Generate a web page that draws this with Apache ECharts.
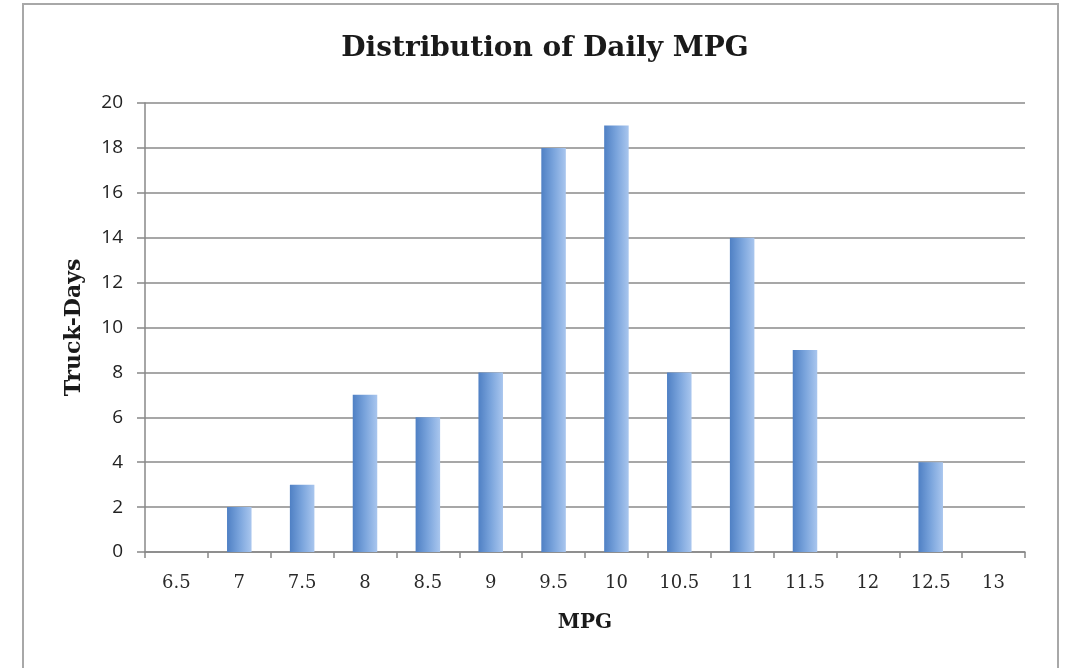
<!DOCTYPE html>
<html><head><meta charset="utf-8">
<script src="https://cdn.jsdelivr.net/npm/echarts@6/dist/echarts.min.js"></script>
<style>html,body{margin:0;padding:0;background:#fff}#c{width:1069px;height:668px}</style>
</head><body><div id="c"></div>
<script>
const categories = ['6.5','7','7.5','8','8.5','9','9.5','10','10.5','11','11.5','12','12.5','13'];
const truckDays = [0,2,3,7,6,8,18,19,8,14,9,0,4,0];
const yTicks = [0,2,4,6,8,10,12,14,16,18,20];

const chart = echarts.init(document.getElementById('c'));
chart.setOption({
  animation:false,
  backgroundColor:'#fff',
  title:{text:'Distribution of Daily MPG',left:540,top:30,textAlign:'center',
    textStyle:{fontFamily:'DejaVu Serif',fontWeight:'bold',fontSize:28,color:'#1a1a1a'}},
  graphic:[{type:'rect',shape:{x:23,y:4,width:1035,height:680},
    style:{fill:'none',stroke:'#a8a8a8',lineWidth:2},silent:true}],
  grid:{left:145,right:44,top:103,bottom:116},
  xAxis:{type:'category',data:categories,
    name:'MPG',nameLocation:'middle',nameGap:61,
    nameTextStyle:{fontFamily:'DejaVu Serif',fontWeight:'bold',fontSize:20,color:'#1a1a1a'},
    axisLine:{lineStyle:{color:'#888',width:1.5}},
    axisTick:{show:true,length:6,lineStyle:{color:'#888',width:1.5}},
    axisLabel:{fontFamily:'DejaVu Serif',fontSize:18,color:'#2a2a2a',margin:22}},
  yAxis:{type:'value',min:0,max:20,interval:2,
    name:'Truck-Days',nameLocation:'middle',nameGap:60,
    nameTextStyle:{fontFamily:'DejaVu Serif',fontWeight:'bold',fontSize:22,color:'#1a1a1a'},
    axisLine:{show:true,lineStyle:{color:'#888',width:1.5}},
    axisTick:{show:true,length:8,lineStyle:{color:'#888',width:1.5}},
    splitLine:{lineStyle:{color:'#8a8a8a',width:1.5}},
    axisLabel:{fontFamily:'Open Sans',fontSize:19,color:'#222',margin:22,
      formatter:v=>yTicks.includes(v)?String(v):''}},
  series:[{type:'bar',data:truckDays,barWidth:'39%',
    itemStyle:{color:new echarts.graphic.LinearGradient(0,0,1,0,[
      {offset:0,color:'#4f80c4'},{offset:0.5,color:'#7aa4dc'},{offset:1,color:'#a9c6ee'}])}}]
});
</script></body></html>
